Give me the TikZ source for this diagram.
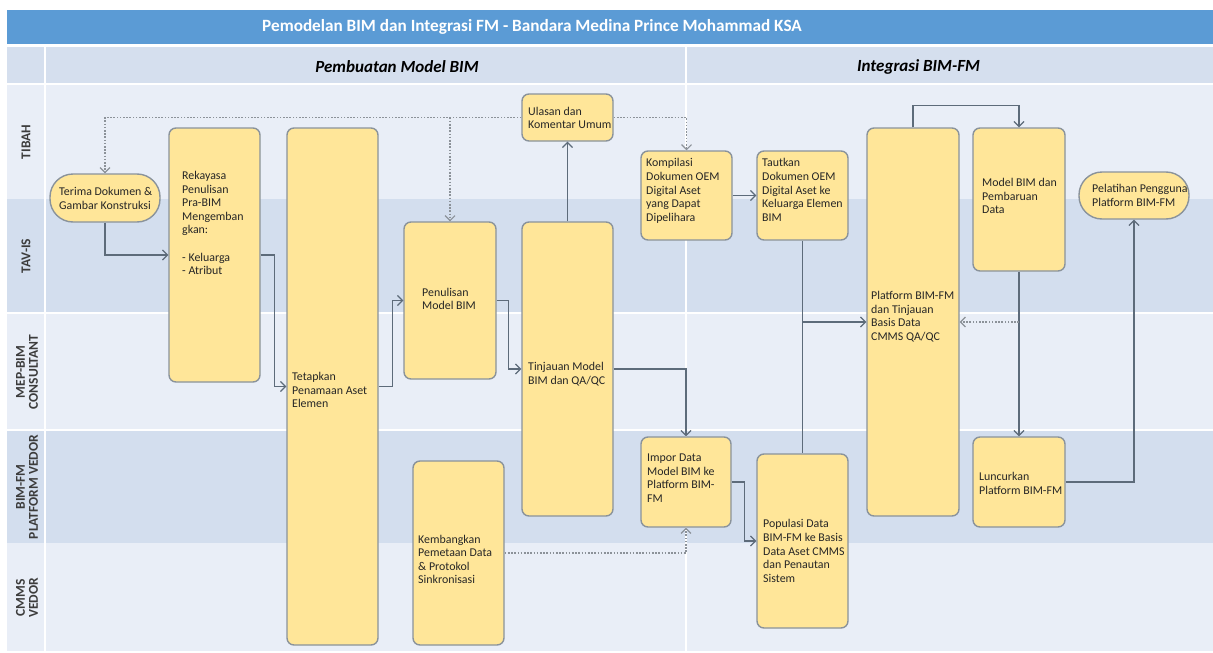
\documentclass[tikz,border=0pt]{standalone}
\usepackage{fontspec}
\setmainfont{Carlito}
\usetikzlibrary{arrows.meta}

\definecolor{titlebar}{HTML}{5B9BD5}
\definecolor{hdrrow}{HTML}{D5DFEE}
\definecolor{laneA}{HTML}{E9EEF7}
\definecolor{laneB}{HTML}{D3DEEE}
\definecolor{boxfill}{HTML}{FFE699}
\definecolor{boxline}{HTML}{8A939B}
\definecolor{flowline}{HTML}{5D6B7A}
\definecolor{dotline}{HTML}{8C9299}
\definecolor{lanetext}{HTML}{3C3C3C}

\tikzset{
  taskbox/.style={draw=boxline, fill=boxfill, line width=1.4pt, rounded corners=7pt, inner sep=0pt},
  pillbox/.style={draw=boxline, fill=boxfill, line width=1.4pt, rounded corners=23pt, inner sep=0pt},
  boxtext/.style={anchor=west, align=left, inner sep=0pt, font=\fontsize{11.9}{13.6}\selectfont, text=black!85},
  lanelabel/.style={rotate=90, align=center, inner sep=0pt, text=lanetext, font=\fontsize{13.5}{13}\selectfont\bfseries},
  phaselabel/.style={inner sep=0pt, font=\fontsize{17}{20}\selectfont\bfseries\itshape},
  flow/.style={draw=flowline, line width=1.2pt, -{Straight Barb[length=5pt,width=10pt]}},
  plainflow/.style={draw=flowline, line width=1.2pt},
  dotflow/.style={draw=dotline, line width=1.1pt, dash pattern=on 1.6pt off 1.6pt, -{Straight Barb[length=5pt,width=10pt]}},
  dotplain/.style={draw=dotline, line width=1.1pt, dash pattern=on 1.6pt off 1.6pt}
}

\begin{document}
\begin{tikzpicture}[x=1pt,y=-1pt]
\useasboundingbox (0,0) rectangle (1213,653);
\fill[white] (0,0) rectangle (1213,653);

% title bar
\fill[titlebar] (7,10) rectangle (1213,44);
\node[inner sep=0pt, text=white, font=\fontsize{17.2}{20}\selectfont\bfseries] (title) at (532,27)
  {Pemodelan BIM dan Integrasi FM - Bandara Medina Prince Mohammad KSA};

% phase header row
\fill[hdrrow] (7,47) rectangle (1213,83);
\node[phaselabel] (ph1) at (397,67) {Pembuatan Model BIM};
\node[phaselabel] (ph2) at (918.5,67) {Integrasi BIM-FM};

% swimlanes
\fill[laneA] (7,85) rectangle (1213,199);
\fill[laneB] (7,199) rectangle (1213,313);
\fill[laneA] (7,313) rectangle (1213,430);
\fill[laneB] (7,430) rectangle (1213,543);
\fill[laneA] (7,543) rectangle (1213,651);
\draw[white, line width=1.5pt] (7,84) -- (1213,84);
\draw[white, line width=1.2pt] (7,313) -- (1213,313);
\draw[white, line width=1.2pt] (7,430) -- (1213,430);
\draw[white, line width=1.5pt] (45,47) -- (45,651);
\draw[white, line width=1.5pt] (686,47) -- (686,651);

\node[lanelabel] (l1) at (26,142) {TIBAH};
\node[lanelabel] (l2) at (26,256) {TAV-IS};
\node[lanelabel] (l3) at (27,372) {MEP-BIM\\CONSULTANT};
\node[lanelabel] (l4) at (27,487) {BIM-FM\\PLATFORM VEDOR};
\node[lanelabel] (l5) at (27,598) {CMMS\\VEDOR};

% process boxes
\node[pillbox, minimum width=110pt, minimum height=48pt] (terima) at (105,198) {};
\node[taskbox, minimum width=91pt, minimum height=254pt] (rek) at (214.5,255) {};
\node[taskbox, minimum width=91pt, minimum height=517pt] (tet) at (332.5,386.5) {};
\node[taskbox, minimum width=92pt, minimum height=157pt] (pen) at (450,300.5) {};
\node[taskbox, minimum width=91pt, minimum height=294pt] (tin) at (567.5,369) {};
\node[taskbox, minimum width=91pt, minimum height=47pt] (ula) at (567.5,117.5) {};
\node[taskbox, minimum width=91pt, minimum height=89pt] (kom) at (686.5,195.5) {};
\node[taskbox, minimum width=91pt, minimum height=89pt] (tau) at (802.5,195.5) {};
\node[taskbox, minimum width=92pt, minimum height=388pt] (pla) at (913,322) {};
\node[taskbox, minimum width=92pt, minimum height=143pt] (mod) at (1019,199.5) {};
\node[pillbox, minimum width=110pt, minimum height=47pt] (pel) at (1134,195.5) {};
\node[taskbox, minimum width=90pt, minimum height=90pt] (imp) at (686,482) {};
\node[taskbox, minimum width=91pt, minimum height=184pt] (kem) at (458.5,553) {};
\node[taskbox, minimum width=91pt, minimum height=174pt] (pop) at (802.5,541) {};
\node[taskbox, minimum width=92pt, minimum height=90pt] (lun) at (1019,482) {};

% box texts
\node[boxtext] (t-terima) at (59,198.5) {Terima Dokumen \&\\Gambar Konstruksi};
\node[boxtext, anchor=north west] (t-rek) at (182,171) {Rekayasa\\Penulisan\\Pra-BIM\\Mengemban\\gkan:\\[13.6pt]- Keluarga\\- Atribut};
\node[boxtext] (t-tet) at (292,390) {Tetapkan\\Penamaan Aset\\Elemen};
\node[boxtext] (t-pen) at (422,299) {Penulisan\\Model BIM};
\node[boxtext] (t-tin) at (528,374) {Tinjauan Model\\BIM dan QA/QC};
\node[boxtext] (t-ula) at (528,118) {Ulasan dan\\Komentar Umum};
\node[boxtext] (t-kom) at (646,191) {Kompilasi\\Dokumen OEM\\Digital Aset\\yang Dapat\\Dipelihara};
\node[boxtext] (t-tau) at (762,190) {Tautkan\\Dokumen OEM\\Digital Aset ke\\Keluarga Elemen\\BIM};
\node[boxtext] (t-pla) at (871,316.5) {Platform BIM-FM\\dan Tinjauan\\Basis Data\\CMMS QA/QC};
\node[boxtext] (t-mod) at (982,196) {Model BIM dan\\Pembaruan\\Data};
\node[boxtext] (t-pel) at (1092,195.5) {Pelatihan Pengguna\\Platform BIM-FM};
\node[boxtext] (t-imp) at (647,478) {Impor Data\\Model BIM ke\\Platform BIM-\\FM};
\node[boxtext] (t-kem) at (418,559.5) {Kembangkan\\Pemetaan Data\\\& Protokol\\Sinkronisasi};
\node[boxtext] (t-pop) at (763,551) {Populasi Data\\BIM-FM ke Basis\\Data Aset CMMS\\dan Penautan\\Sistem};
\node[boxtext] (t-lun) at (979,483.5) {Luncurkan\\Platform BIM-FM};

% solid flows
\draw[flow] (terima.south) |- (rek.west);
\draw[flow] (rek.east) -- ++(14,0) |- (tet.west);
\draw[flow] (tet.east) -- ++(14,0) |- (pen.west);
\draw[flow] (pen.east) -- ++(12,0) |- (tin.west);
\draw[flow] (tin.north) -- (ula.south);
\draw[flow] (tin.east) -| (imp.north);
\draw[flow] (kom.east) -- (tau.west);
\draw[plainflow] (tau.south) -- (pop.north);
\draw[flow] (tau.south |- pla.west) -- (pla.west);
\draw[flow] (pla.north) -- ++(0,-22) -| (mod.north);
\draw[flow] (mod.south) -- (lun.north);
\draw[flow] (lun.east) -| (pel.south);
\draw[flow] (imp.east) -- ++(13,0) |- (pop.west);

% review and mapping flows (dotted)
\draw[dotflow] (ula.west) -| (terima.north);
\draw[dotflow] (pen.north |- ula.west) -- (pen.north);
\draw[dotflow] (ula.east) -| (kom.north);
\draw[dotflow] (mod.south |- pla.east) -- (pla.east);
\draw[dotflow] (kem.east) -| (imp.south);
\end{tikzpicture}
\end{document}
